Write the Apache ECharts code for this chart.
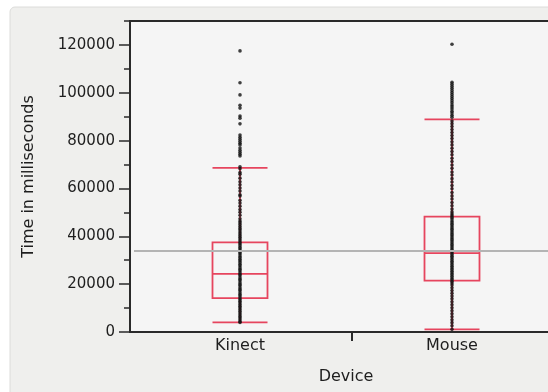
<!DOCTYPE html>
<html>
<head>
<meta charset="utf-8">
<script src="https://cdn.jsdelivr.net/npm/echarts@6/dist/echarts.min.js"></script>
<style>
  html, body { margin: 0; padding: 0; background: #fff; }
  #chart { width: 548px; height: 392px; }
</style>
</head>
<body>
<div id="chart"></div>
<script>
const devices = ['Kinect', 'Mouse'];

// [min whisker, Q1, median, Q3, max whisker]
const kinectBox = [4000, 14200, 24300, 37500, 68600];
const mouseBox = [1100, 21500, 33000, 48200, 88900];

const overallMean = 33900;

// individual trials
const kinectTimes = [
  117500, 104200, 99100, 94800, 93600, 90300, 89400, 87000,
  82300, 81400, 80600, 79700, 78900, 78200, 76900, 76000, 75100, 74300, 73600, 69100,
  68200, 66700, 65900, 64300, 62800, 61500, 60200, 58900, 57400, 56800, 55100, 53900,
  52600, 51200, 50100, 48800, 47300, 46400, 45700,
  44900, 44100, 43300, 42600, 41800, 41100, 40300, 39600, 38900, 38100, 37400, 36800,
  36100, 35300, 34700, 33900, 33200, 32600, 31800, 31100, 30400, 29800, 29100, 28300,
  27700, 26900, 26200, 25600, 24800, 24100, 23500, 22700, 22000, 21400, 20600, 19900,
  19300, 18500, 17800, 17200, 16400, 15700, 15100, 14300, 13600, 12900, 12200, 11500,
  10800, 10100, 9400, 8700, 7900, 7200, 6500, 5800, 5100, 4400, 4000
];
const mouseTimes = [
  120300, 104400, 103600, 102700, 101900, 101000, 100100, 99300, 98400, 97600, 96700,
  95800, 94900, 94100, 93200, 92300, 91500, 90600, 89800,
  88200, 87100, 85900, 84600, 83400, 82100, 80900, 79500, 78200, 76800, 75400, 74100,
  72600, 71300, 69800, 68400, 66900, 65600, 64100, 62700, 61200, 59900, 58300, 56900,
  55600, 54100, 52800, 51400, 50200,
  49300, 48600, 47900, 47200, 46400, 45700, 45000, 44300, 43600, 42900, 42200, 41500,
  40800, 40100, 39400, 38700, 38000, 37300, 36600, 35900, 35200, 34500, 33800, 33100,
  32400, 31700, 31000, 30300, 29600, 28900, 28200, 27500, 26800, 26100, 25400, 24700,
  24000, 23300, 22600, 21900, 21200, 20500,
  19600, 18500, 17300, 16200, 15000, 13900, 12600, 11400, 10100, 8900, 7600, 6400,
  5100, 3900, 2600, 1100
];

const yMax = 130000;
const yStep = 20000;
const yMinorStep = 10000;

const red = '#e6455e';
const ink = '#1e1e1e';
const axisInk = '#2a2a2a';
const font = 'DejaVu Sans';

const dots = [];
kinectTimes.forEach(v => dots.push([0, v]));
mouseTimes.forEach(v => dots.push([1, v]));

const chart = echarts.init(document.getElementById('chart'), null, { renderer: 'canvas' });

chart.setOption({
  animation: false,
  backgroundColor: '#fff',
  graphic: [
    {
      type: 'rect',
      z: -20,
      shape: { x: 10, y: 7, width: 600, height: 420, r: 5 },
      style: { fill: '#efefed', stroke: '#dcdcda', lineWidth: 1 }
    },
    {
      type: 'rect',
      z: -10,
      shape: { x: 130, y: 21, width: 460, height: 311 },
      style: { fill: '#f5f5f5', stroke: axisInk, lineWidth: 2 }
    }
  ],
  grid: [
    { left: 134, top: 21, width: 424, height: 311, outerBoundsMode: 'none' },
    // only used for the single divider tick between the two devices
    { left: 352, top: 21, width: 400, height: 311, outerBoundsMode: 'none' }
  ],
  xAxis: [
    {
      type: 'category',
      gridIndex: 0,
      data: devices,
      axisLine: { show: false },
      axisTick: { show: false },
      axisLabel: { color: ink, fontFamily: font, fontSize: 16, margin: 6 },
      name: 'Device',
      nameLocation: 'middle',
      nameGap: 37,
      nameTextStyle: { color: ink, fontFamily: font, fontSize: 16 }
    },
    {
      type: 'category',
      gridIndex: 1,
      data: [''],
      axisLine: { show: false },
      axisTick: { show: true, length: 9, lineStyle: { color: axisInk, width: 2 } },
      axisLabel: { show: false }
    }
  ],
  yAxis: [
    {
      type: 'value',
      gridIndex: 0,
      min: 0,
      max: yMax,
      interval: yStep,
      offset: 4,
      axisLine: { show: false },
      axisTick: { show: true, length: 11, lineStyle: { color: axisInk, width: 1.5 } },
      axisLabel: {
        color: ink, fontFamily: font, fontSize: 15, margin: 15, showMaxLabel: false,
        formatter: (v) => String(v)
      },
      splitLine: { show: false },
      name: 'Time in milliseconds',
      nameLocation: 'middle',
      nameGap: 93,
      nameTextStyle: { color: ink, fontFamily: font, fontSize: 16 }
    },
    {
      type: 'value',
      gridIndex: 0,
      min: 0,
      max: yMax,
      interval: yMinorStep,
      offset: 4,
      position: 'left',
      axisLine: { show: false },
      axisTick: { show: true, length: 6, lineStyle: { color: axisInk, width: 1.5 } },
      axisLabel: { show: false },
      splitLine: { show: false }
    },
    {
      type: 'value',
      gridIndex: 1,
      show: false
    }
  ],
  series: [
    {
      type: 'line',
      data: [],
      z: 1,
      silent: true,
      markLine: {
        silent: true,
        symbol: 'none',
        label: { show: false },
        lineStyle: { color: '#b4b4b4', width: 2, type: 'solid' },
        data: [{ yAxis: overallMean }]
      }
    },
    {
      type: 'boxplot',
      z: 3,
      boxWidth: [55, 55],
      itemStyle: { color: 'transparent', borderColor: red, borderWidth: 1.8 },
      data: [kinectBox, mouseBox]
    },
    {
      type: 'scatter',
      z: 4,
      symbolSize: 3.6,
      itemStyle: { color: '#111' },
      data: dots
    }
  ]
});
</script>
</body>
</html>
